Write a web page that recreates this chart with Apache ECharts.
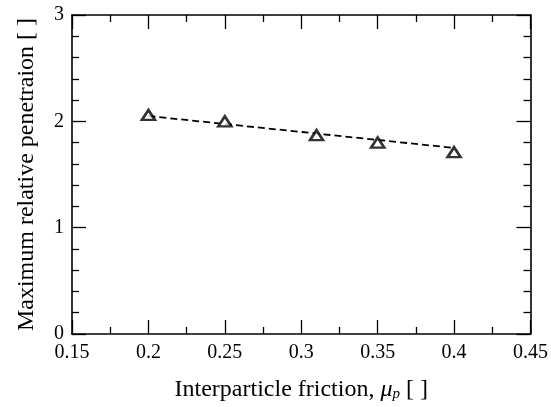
<!DOCTYPE html>
<html><head><meta charset="utf-8">
<script src="https://cdn.jsdelivr.net/npm/echarts@6/dist/echarts.min.js"></script>
<style>html,body{margin:0;padding:0;background:#fff}#c{width:551px;height:407px}</style>
</head><body><div id="c"></div>
<script>
const frictionX = [0.2, 0.25, 0.31, 0.35, 0.4];
const penetration = [2.06, 2.00, 1.87, 1.80, 1.71];
const fitX = [0.2, 0.4];
const fitY = [2.05, 1.75];
const xTicks = [0.15, 0.2, 0.25, 0.3, 0.35, 0.4, 0.45];
const yTicks = [0, 1, 2, 3];

const FONT = 'Liberation Serif';
const chart = echarts.init(document.getElementById('c'), null, {renderer: 'canvas'});
const tickCommon = {inside: true, length: 14, lineStyle: {color: '#000', width: 1.3}};
const minorCommon = {show: true, length: 7, lineStyle: {color: '#000', width: 1.3}};
const lineCommon = {show: true, onZero: false, lineStyle: {color: '#000', width: 1.6}};
const xBase = {type: 'value', min: xTicks[0], max: xTicks[xTicks.length-1], interval: 0.05,
  axisLine: lineCommon, axisTick: tickCommon, minorTick: Object.assign({splitNumber: 2}, minorCommon),
  splitLine: {show: false}};
const yBase = {type: 'value', min: yTicks[0], max: yTicks[yTicks.length-1], interval: 1,
  axisLine: lineCommon, axisTick: tickCommon, minorTick: Object.assign({splitNumber: 5}, minorCommon),
  splitLine: {show: false}};

chart.setOption({
  animation: false,
  backgroundColor: '#fff',
  grid: {left: 72, right: 16, top: 15, bottom: 71, containLabel: false},
  xAxis: [
    Object.assign({}, xBase, {position: 'bottom',
      axisLabel: {color: '#000', fontFamily: FONT, fontSize: 20, margin: 9,
        formatter: v => String(+v.toFixed(2))},
      name: '{n|Interparticle friction, }{i|μ}{s|p}{n| [ ]}', nameLocation: 'middle', nameGap: 44,
      nameTextStyle: {rich: {
        n: {fontFamily: FONT, fontSize: 24, color: '#000'},
        i: {fontFamily: FONT, fontSize: 24, fontStyle: 'italic', color: '#000'},
        s: {fontFamily: FONT, fontSize: 15, fontStyle: 'italic', color: '#000', verticalAlign: 'bottom', padding: [9,0,0,0]}
      }}}),
    Object.assign({}, xBase, {position: 'top', axisLabel: {show: false}})
  ],
  yAxis: [
    Object.assign({}, yBase, {position: 'left',
      axisLabel: {color: '#000', fontFamily: FONT, fontSize: 20, margin: 8},
      name: 'Maximum relative penetraion [ ]', nameLocation: 'middle', nameGap: 33,
      nameTextStyle: {fontFamily: FONT, fontSize: 24, color: '#000'}}),
    Object.assign({}, yBase, {position: 'right', axisLabel: {show: false}})
  ],
  series: [
    {type: 'line', data: fitX.map((x, i) => [x, fitY[i]]), showSymbol: false, symbol: 'none',
      lineStyle: {color: '#000', width: 1.8, type: [7, 4]}, z: 2},
    {type: 'scatter', data: frictionX.map((x, i) => [x, penetration[i]]), symbol: 'triangle',
      symbolSize: [13, 10], itemStyle: {color: '#fff', borderColor: '#000', borderWidth: 2.6}, z: 3}
  ]
});
</script></body></html>
